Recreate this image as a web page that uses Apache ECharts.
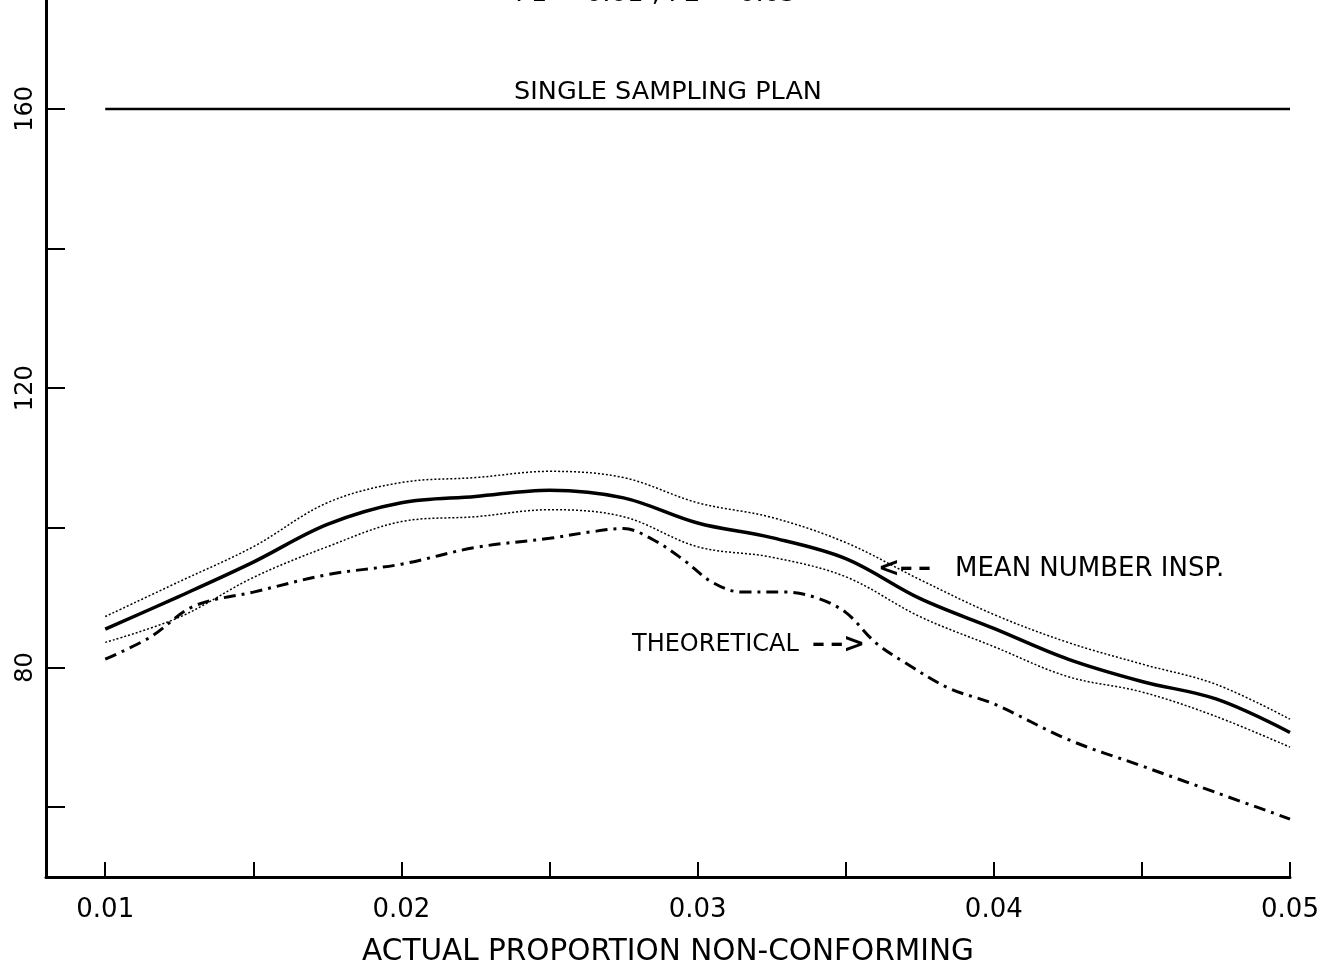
<!DOCTYPE html>
<html>
<head>
<meta charset="utf-8">
<script src="https://cdn.jsdelivr.net/npm/echarts@6/dist/echarts.min.js"></script>
<style>
html,body{margin:0;padding:0;background:#fff;}
#chart{width:1328px;height:972px;}
</style>
</head>
<body>
<div id="chart"></div>
<script>
// ---- data ----
const titleText = 'P1 = 0.01 , P2 = 0.05';
const xAxisName = 'ACTUAL PROPORTION NON-CONFORMING';
const xTickLabels = [0.01, 0.02, 0.03, 0.04, 0.05];
const xTickValues = [0.01, 0.015, 0.02, 0.025, 0.03, 0.035, 0.04, 0.045, 0.05];
const yTickLabels = [80, 120, 160];
const yTickValues = [60, 80, 100, 120, 140, 160];

const bandX = [0.01, 0.0125, 0.015, 0.0175, 0.02, 0.0225, 0.025, 0.0275, 0.03, 0.0325, 0.035, 0.0375, 0.04, 0.0425, 0.045, 0.0475, 0.05];
const meanInsp = [85.5, 90.2, 95.1, 100.5, 103.6, 104.5, 105.4, 104.3, 100.7, 98.6, 95.6, 89.9, 85.6, 81.2, 78.0, 75.5, 70.7];
const upperBand = [87.3, 92.3, 97.3, 103.6, 106.5, 107.2, 108.1, 107.2, 103.6, 101.5, 97.9, 92.6, 87.6, 83.6, 80.5, 77.6, 72.6];
const lowerBand = [83.6, 87.2, 92.9, 97.3, 100.9, 101.6, 102.6, 101.6, 97.3, 95.8, 93.0, 87.3, 83.0, 78.7, 76.5, 73.0, 68.6];

const theoX = [0.01, 0.0115, 0.013, 0.015, 0.0175, 0.02, 0.0225, 0.025, 0.0265, 0.0275, 0.0285, 0.0295, 0.0305, 0.0315, 0.033, 0.034, 0.035, 0.036, 0.037, 0.0385, 0.04, 0.0425, 0.045, 0.0475, 0.05];
const theoretical = [81.2, 84.3, 88.8, 90.8, 93.3, 94.8, 97.2, 98.5, 99.5, 99.9, 98.3, 95.5, 92.2, 90.8, 90.8, 90.0, 87.9, 83.6, 80.7, 77.0, 74.8, 69.7, 65.9, 62.1, 58.3];

const singleX = [0.01, 0.05];
const singlePlan = [160, 160];

const labels = {
  single: 'SINGLE SAMPLING PLAN',
  meanArrow: '<\u2013\u2009\u2013',
  mean: 'MEAN NUMBER INSP.',
  theo: 'THEORETICAL',
  theoArrow: '\u2013\u2009\u2013>'
};

const zip = (xs, ys) => xs.map((x, i) => [x, ys[i]]);
const FONT = 'DejaVu Sans';

const txt = (text, x, y, size, align, weight) => ({
  type: 'text',
  style: { text, x, y, fontFamily: FONT, fontSize: size, fontWeight: weight || 'normal', fill: '#000', align: align || 'left', verticalAlign: 'middle' }
});

const chart = echarts.init(document.getElementById('chart'));
chart.setOption({
  backgroundColor: '#fff',
  animation: false,
  grid: { left: 46, right: 38, top: 0, bottom: 95, containLabel: false },
  xAxis: {
    type: 'value', min: 0.008, max: 0.05,
    name: xAxisName, nameLocation: 'middle', nameGap: 60,
    nameTextStyle: { fontFamily: FONT, fontSize: 29.5, color: '#000' },
    axisLine: { show: true, lineStyle: { color: '#000', width: 3 } },
    axisTick: { show: true, inside: true, length: 15, lineStyle: { color: '#000', width: 2 }, customValues: xTickValues },
    axisLabel: { show: true, customValues: xTickLabels, margin: 20, fontFamily: FONT, fontSize: 26, color: '#000',
      formatter: v => v.toFixed(2) },
    splitLine: { show: false }
  },
  yAxis: {
    type: 'value', min: 50, max: 175.6,
    axisLine: { show: true, lineStyle: { color: '#000', width: 3 } },
    axisTick: { show: true, inside: true, length: 19, lineStyle: { color: '#000', width: 2 }, customValues: yTickValues },
    axisLabel: { show: true, customValues: yTickLabels, rotate: 90, margin: 8, fontFamily: FONT, fontSize: 24, color: '#000' },
    splitLine: { show: false }
  },
  graphic: [
    { type: 'text', style: { text: titleText, x: 656, y: 7, fontFamily: FONT, fontSize: 26, fill: '#000', align: 'center', verticalAlign: 'bottom' } },
    txt(labels.single, 668, 92, 25.5, 'center'),
    txt(labels.meanArrow, 878, 569, 26, 'left', 'bold'),
    txt(labels.mean, 955, 569, 26),
    txt(labels.theo, 632, 645, 24),
    txt(labels.theoArrow, 812, 645, 26, 'left', 'bold')
  ],
  series: [
    { name: 'single', type: 'line', data: zip(singleX, singlePlan), showSymbol: false, lineStyle: { color: '#000', width: 2.5 } },
    { name: 'upper', type: 'line', data: zip(bandX, upperBand), smooth: 0.35, showSymbol: false, lineStyle: { color: '#000', width: 1.5, type: [2, 2] } },
    { name: 'mean', type: 'line', data: zip(bandX, meanInsp), smooth: 0.35, showSymbol: false, lineStyle: { color: '#000', width: 3.5 } },
    { name: 'lower', type: 'line', data: zip(bandX, lowerBand), smooth: 0.35, showSymbol: false, lineStyle: { color: '#000', width: 1.5, type: [2, 2] } },
    { name: 'theoretical', type: 'line', data: zip(theoX, theoretical), smooth: 0.35, showSymbol: false, lineStyle: { color: '#000', width: 3, type: [12, 6, 3, 6] } }
  ]
});
</script>
</body>
</html>
